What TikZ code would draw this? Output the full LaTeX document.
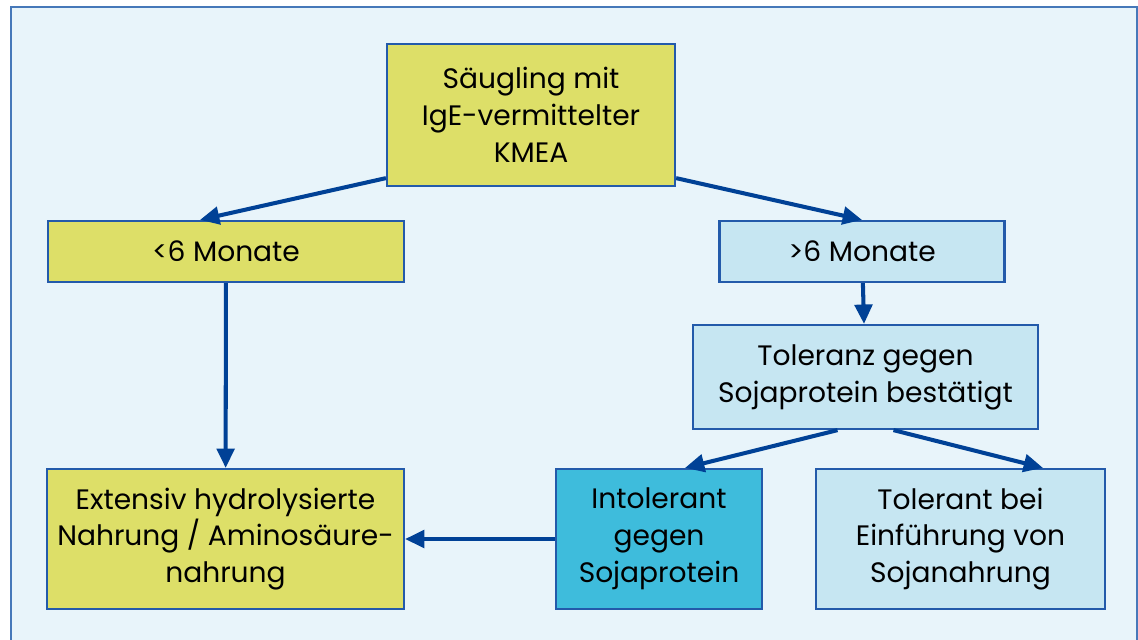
\documentclass[tikz,border=0pt]{standalone}
\usepackage{fontspec}
\setmainfont{Poppins}
\usetikzlibrary{arrows.meta,calc}
\definecolor{framebg}{RGB}{232,244,250}
\definecolor{frameline}{RGB}{70,120,185}
\definecolor{boxline}{RGB}{35,90,170}
\definecolor{boxyellow}{RGB}{221,223,104}
\definecolor{boxpale}{RGB}{198,230,242}
\definecolor{boxcyan}{RGB}{62,188,220}
\definecolor{arrowblue}{RGB}{0,65,150}

\begin{document}
\begin{tikzpicture}[
    x=0.02cm,
    y=-0.02cm,
    box/.style={draw=boxline,line width=1.3pt,align=center,inner sep=0pt,
                font=\fontsize{16}{21}\selectfont},
    arr/.style={draw=arrowblue,line width=2.3pt,
                -{Triangle[length=11pt,width=10pt]}}
]

% Canvas and outer frame
\useasboundingbox (0,0) rectangle (1138,639);
\fill[white] (0,0) rectangle (1138,639);
\begin{scope}
\clip (0,0) rectangle (1138,639);
\draw[frameline,fill=framebg,line width=1.2pt] (11,7) rectangle (1137,660);
\end{scope}

% Boxes
\node[box,fill=boxyellow,minimum width=5.76cm,minimum height=2.84cm]
    (saeugling) at (531,115) {Säugling mit\\IgE-vermittelter\\KMEA};
\node[box,fill=boxyellow,minimum width=7.12cm,minimum height=1.22cm]
    (unter) at (226,251.5) {<6 Monate};
\node[box,fill=boxpale,minimum width=5.7cm,minimum height=1.22cm]
    (ueber) at (862,251.5) {>6 Monate};
\node[box,fill=boxpale,minimum width=6.9cm,minimum height=2.08cm]
    (toleranz) at (865.5,377) {Toleranz gegen\\Sojaprotein bestätigt};
\node[box,fill=boxyellow,minimum width=7.14cm,minimum height=2.8cm]
    (extensiv) at (225.5,539) {Extensiv hydrolysierte\\Nahrung / Aminosäure-\\nahrung};
\node[box,fill=boxcyan,minimum width=4.12cm,minimum height=2.8cm]
    (intol) at (659,539) {Intolerant\\gegen\\Sojaprotein};
\node[box,fill=boxpale,minimum width=5.78cm,minimum height=2.8cm]
    (tolbei) at (960.5,539) {Tolerant bei\\Einführung von\\Sojanahrung};

% Connectors
\draw[arr] ([yshift=0.18cm]saeugling.south west) -- ([xshift=-0.52cm]unter.north);
\draw[arr] ([yshift=0.18cm]saeugling.south east) -- (ueber.north);
\draw[arr] (unter) -- (extensiv);
\draw[arr] (ueber) -- (toleranz);
\draw[arr] ([xshift=-0.56cm]toleranz.south) -- ([xshift=0.52cm]intol.north);
\draw[arr] ([xshift=0.56cm]toleranz.south) -- ([xshift=1.65cm]tolbei.north);
\draw[arr] (intol) -- (extensiv);

\end{tikzpicture}
\end{document}
